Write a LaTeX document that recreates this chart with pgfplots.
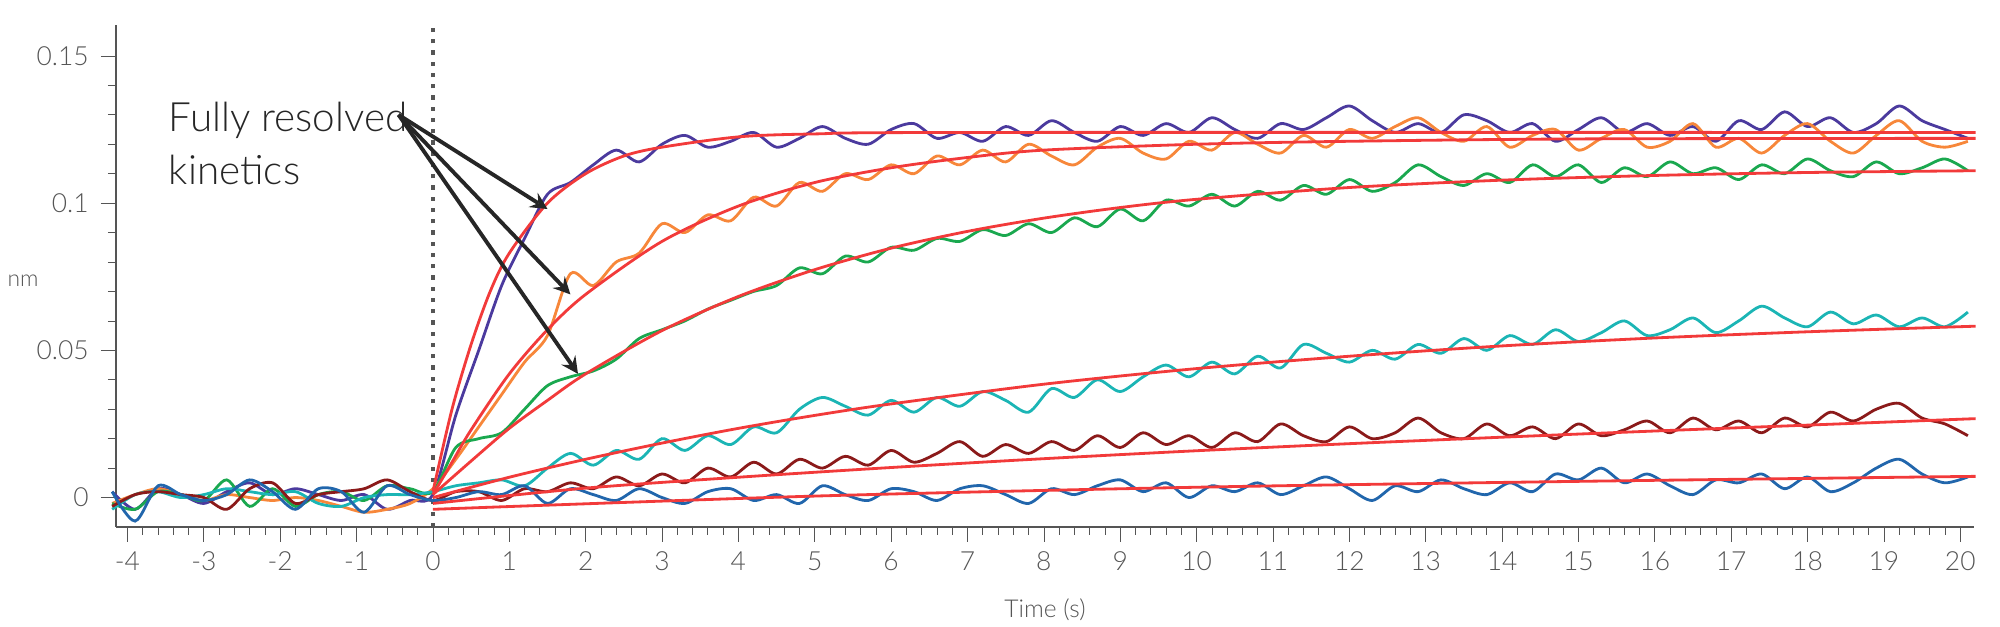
\documentclass[border=0pt]{standalone}
\usepackage{pgfplots}
\pgfplotsset{compat=1.18}
\usepackage{pgfplotstable}
\usepackage{fontspec}
\setmainfont{Lato Light}
\definecolor{cP}{HTML}{4B3A9E}
\definecolor{cO}{HTML}{F7873A}
\definecolor{cG}{HTML}{1AA84F}
\definecolor{cC}{HTML}{1BB5B5}
\definecolor{cB}{HTML}{8B1A1A}
\definecolor{cU}{HTML}{2166AC}
\definecolor{cR}{HTML}{F23A3A}
\definecolor{ax}{HTML}{555555}
\pgfplotstableread{
t p o g c br bl
-4.2 0.002 -0.002 -0.002 -0.004 -0.003 0.002
-3.9 -0.004 0.001 -0.004 0.001 0.001 -0.008
-3.6 0.003 0.003 0.002 0.002 0.002 0.004
-3.3 0.001 0.001 0.001 0.000 0.001 0.001
-3.0 -0.002 -0.001 -0.001 0.001 0.000 -0.001
-2.7 0.002 0.001 0.006 0.003 -0.004 0.001
-2.4 0.005 0.000 -0.003 0.002 0.003 0.006
-2.1 0.001 -0.001 0.003 0.001 0.005 0.002
-1.8 0.003 0.000 -0.003 0.002 -0.002 -0.004
-1.5 0.001 -0.001 0.001 -0.002 0.001 0.003
-1.2 -0.001 -0.003 0.002 -0.003 0.002 0.002
-0.9 0.001 -0.005 -0.001 0.000 0.003 -0.005
-0.6 -0.004 -0.004 0.004 0.001 0.006 0.004
-0.3 -0.001 -0.002 0.003 0.001 0.002 0.001
0.0 0.001 0.003 0.002 0.002 -0.001 -0.001
0.3 0.028 0.013 0.017 0.004 0.002 0.000
0.6 0.050 0.024 0.020 0.005 0.002 0.002
0.9 0.072 0.035 0.022 0.006 -0.001 0.001
1.2 0.088 0.046 0.030 0.004 0.003 0.004
1.5 0.103 0.055 0.038 0.010 0.002 -0.002
1.8 0.107 0.076 0.041 0.015 0.005 0.003
2.1 0.113 0.072 0.043 0.011 0.003 0.001
2.4 0.118 0.080 0.047 0.016 0.007 -0.001
2.7 0.114 0.083 0.054 0.013 0.004 0.003
3.0 0.120 0.093 0.057 0.020 0.008 0.000
3.3 0.123 0.090 0.060 0.016 0.005 -0.002
3.6 0.119 0.096 0.064 0.021 0.010 0.002
3.9 0.121 0.094 0.067 0.018 0.007 0.003
4.2 0.124 0.102 0.070 0.024 0.012 -0.001
4.5 0.119 0.099 0.072 0.022 0.008 0.001
4.8 0.122 0.107 0.078 0.030 0.013 -0.002
5.1 0.126 0.104 0.076 0.034 0.010 0.004
5.4 0.122 0.110 0.082 0.031 0.014 0.001
5.7 0.120 0.108 0.080 0.028 0.011 -0.001
6.0 0.125 0.113 0.085 0.033 0.016 0.003
6.3 0.127 0.110 0.084 0.029 0.012 0.002
6.6 0.122 0.116 0.088 0.034 0.015 -0.001
6.9 0.124 0.113 0.087 0.031 0.019 0.003
7.2 0.121 0.118 0.091 0.036 0.014 0.004
7.5 0.126 0.114 0.089 0.033 0.018 0.001
7.8 0.123 0.120 0.093 0.029 0.015 -0.002
8.1 0.128 0.116 0.090 0.037 0.019 0.003
8.4 0.124 0.113 0.095 0.034 0.016 0.001
8.7 0.121 0.119 0.092 0.040 0.021 0.004
9.0 0.126 0.122 0.098 0.036 0.017 0.006
9.3 0.123 0.117 0.094 0.041 0.022 0.002
9.6 0.127 0.115 0.101 0.045 0.018 0.005
9.9 0.124 0.121 0.099 0.041 0.021 0.000
10.2 0.129 0.118 0.103 0.046 0.017 0.004
10.5 0.125 0.124 0.099 0.042 0.022 0.002
10.8 0.122 0.120 0.104 0.048 0.019 0.005
11.1 0.127 0.117 0.101 0.044 0.025 0.001
11.4 0.125 0.123 0.106 0.052 0.021 0.004
11.7 0.129 0.119 0.103 0.049 0.019 0.007
12.0 0.133 0.125 0.108 0.046 0.024 0.003
12.3 0.128 0.122 0.104 0.050 0.020 -0.001
12.6 0.124 0.126 0.107 0.047 0.022 0.004
12.9 0.127 0.129 0.113 0.052 0.027 0.002
13.2 0.124 0.124 0.109 0.049 0.022 0.006
13.5 0.130 0.121 0.106 0.054 0.020 0.003
13.8 0.128 0.126 0.110 0.050 0.025 0.001
14.1 0.124 0.119 0.107 0.055 0.021 0.005
14.4 0.127 0.123 0.113 0.052 0.024 0.002
14.7 0.121 0.125 0.109 0.057 0.020 0.008
15.0 0.125 0.118 0.113 0.053 0.025 0.006
15.3 0.129 0.122 0.107 0.056 0.021 0.010
15.6 0.124 0.125 0.112 0.060 0.023 0.005
15.9 0.127 0.119 0.109 0.055 0.026 0.008
16.2 0.123 0.121 0.114 0.057 0.022 0.004
16.5 0.126 0.127 0.110 0.061 0.027 0.001
16.8 0.121 0.119 0.112 0.056 0.023 0.006
17.1 0.128 0.122 0.108 0.060 0.026 0.005
17.4 0.125 0.117 0.113 0.065 0.022 0.008
17.7 0.131 0.123 0.110 0.061 0.027 0.003
18.0 0.126 0.127 0.115 0.058 0.024 0.007
18.3 0.129 0.121 0.111 0.063 0.029 0.002
18.6 0.124 0.117 0.109 0.059 0.026 0.005
18.9 0.127 0.123 0.114 0.062 0.030 0.010
19.2 0.133 0.128 0.110 0.058 0.032 0.013
19.5 0.128 0.121 0.112 0.061 0.027 0.008
19.8 0.125 0.119 0.115 0.058 0.025 0.005
20.1 0.122 0.121 0.111 0.063 0.021 0.007
}\data
\begin{document}
\begin{tikzpicture}
\begin{axis}[
  scale only axis, width=185.8mm, height=50.2mm,
  xmin=-4.15, xmax=20.18, ymin=-0.01, ymax=0.1605,
  axis lines=left, axis line style={ax,-},
  tick align=outside, tick style={ax},
  major tick length=1.5mm, minor tick length=0.8mm,
  xtick={-4,...,20}, minor x tick num=4,
  xticklabels={-4,-3,-2,-1,0,1,2,3,4,5,6,7,8,9,10,11,12,13,14,15,16,17,18,19,20},
  ytick={0,0.05,0.1,0.15}, yticklabels={0,0.05,0.1,0.15}, minor y tick num=4,
  ticklabel style={font=\fontsize{7.5}{8}\selectfont, text=ax},
  xticklabel style={yshift=0.3mm},
  clip=false,
]
\useasboundingbox ([xshift=-11.6mm,yshift=-10mm]rel axis cs:0,0) rectangle ([xshift=2.6mm,yshift=2.5mm]rel axis cs:1,1);
\node[font=\fontsize{6.5}{7}\selectfont, text=ax] at ([xshift=-9.3mm]rel axis cs:0,0.49) {nm};
\node[font=\fontsize{7}{8}\selectfont, text=ax] at ([yshift=-8.3mm]rel axis cs:0.5,0) {Time (s)};
\draw[ax, line width=1.2pt, dotted] (axis cs:0,-0.01) -- (axis cs:0,0.1605);
\addplot[cP, line width=0.8pt, smooth, tension=0.5] table[x=t,y=p]{\data};
\addplot[cO, line width=0.8pt, smooth, tension=0.5] table[x=t,y=o]{\data};
\addplot[cG, line width=0.8pt, smooth, tension=0.5] table[x=t,y=g]{\data};
\addplot[cC, line width=0.8pt, smooth, tension=0.5] table[x=t,y=c]{\data};
\addplot[cB, line width=0.8pt, smooth, tension=0.5] table[x=t,y=br]{\data};
\addplot[cU, line width=0.8pt, smooth, tension=0.5] table[x=t,y=bl]{\data};
% fits
\addplot[cR, line width=0.8pt, smooth] coordinates {(0,0.002)(0.25,0.030)(0.5,0.052)(0.75,0.070)(1,0.083)(1.5,0.100)(2,0.110)(2.5,0.116)(3,0.119)(4,0.1225)(5,0.1235)(7,0.124)(20.2,0.124)};
\addplot[cR, line width=0.8pt, smooth] coordinates {(0,0.001)(0.25,0.012)(0.5,0.023)(1,0.042)(1.5,0.057)(2,0.069)(3,0.087)(4,0.099)(5,0.107)(6,0.112)(7,0.1155)(8,0.118)(10,0.120)(12,0.121)(15,0.1218)(20.2,0.122)};
\addplot[cR, line width=0.8pt, smooth] coordinates {(0,0.001)(0.5,0.0124)(1,0.0235)(1.5,0.033)(2,0.042)(3,0.0567)(4,0.0683)(5,0.0774)(6,0.0847)(7,0.0904)(8,0.0949)(9,0.0985)(10,0.1013)(12,0.1053)(14,0.1078)(16,0.1094)(18,0.1104)(20.2,0.111)};
\addplot[cR, line width=0.8pt, smooth] coordinates {(0,0.000)(1,0.0069)(2,0.013)(3,0.0185)(4,0.0235)(5,0.0279)(6,0.0318)(8,0.0385)(10,0.0438)(12,0.048)(14,0.0515)(16,0.0542)(18,0.0563)(20.2,0.0582)};
\addplot[cR, line width=0.8pt, smooth] coordinates {(0,-0.002)(2,0.0032)(4,0.0069)(6,0.0102)(8,0.0132)(10,0.0159)(12,0.0183)(14,0.0205)(16,0.0226)(18,0.0246)(20.2,0.0268)};
\addplot[cR, line width=0.8pt, smooth] coordinates {(0,-0.004)(5,0.0005)(10,0.0035)(15,0.0055)(20.2,0.0072)};
\node[anchor=north west, align=left, font=\fontsize{11.5}{15}\selectfont, text=black!85] at (axis cs:-3.62,0.1385) {Fully resolved\\kinetics};
\draw[-stealth, line width=1.1pt, black!85] (axis cs:-0.45,0.130) -- (axis cs:1.5,0.098);
\draw[-stealth, line width=1.1pt, black!85] (axis cs:-0.45,0.130) -- (axis cs:1.8,0.069);
\draw[-stealth, line width=1.1pt, black!85] (axis cs:-0.45,0.130) -- (axis cs:1.9,0.042);
\end{axis}
\end{tikzpicture}
\end{document}
